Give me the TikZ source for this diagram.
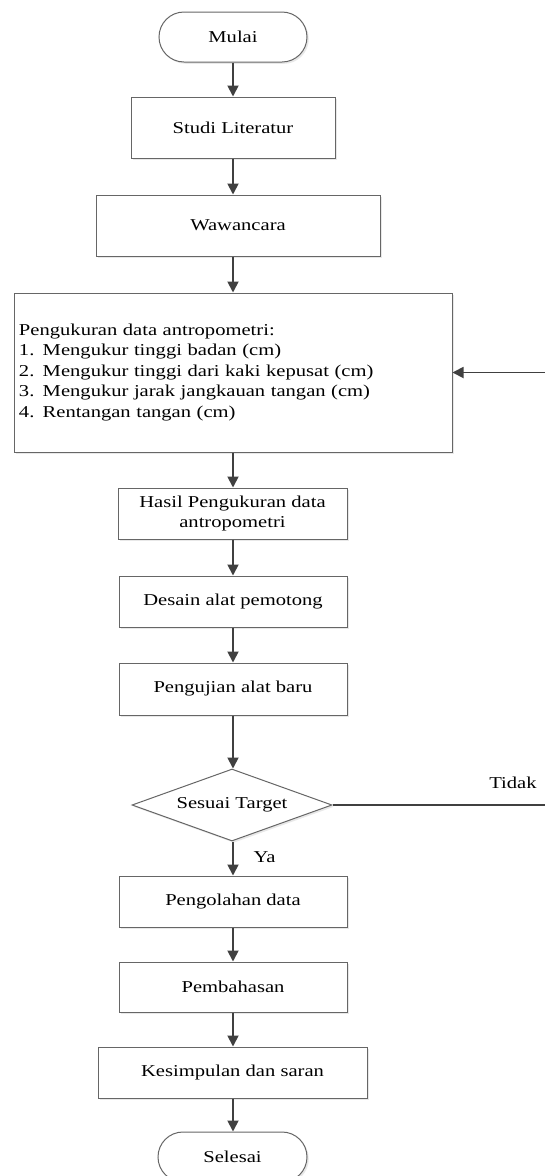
\documentclass[tikz,border=0pt]{standalone}
\usepackage{fontspec}
\setmainfont{Liberation Serif}[FakeStretch=1.24]
\usetikzlibrary{shapes.geometric,arrows.meta,shadows}
\definecolor{bordc}{HTML}{666666}
\definecolor{arrc}{HTML}{404040}
\tikzset{
  base/.style={draw=bordc, line width=1pt, fill=white, inner sep=3pt, align=center,
    font=\fontsize{16.6}{20.5}\selectfont,
    drop shadow={shadow xshift=1.8pt, shadow yshift=-1.8pt, fill=black!9, opacity=1}},
  proc/.style={base, rectangle},
  term/.style={base, rectangle, rounded corners=25pt, minimum width=148pt, minimum height=50pt},
  decide/.style={base, diamond, aspect=2.78, inner sep=0pt, minimum width=200pt, minimum height=72pt},
  arr/.style={draw=arrc, line width=1.8pt, -{Triangle[width=11pt,length=11pt]}},
  plain/.style={draw=arrc, line width=1.3pt},
  lab/.style={font=\fontsize{16.6}{20.5}\selectfont, inner sep=0pt}
}
\begin{document}
\begin{tikzpicture}[x=1pt,y=-1pt]
\clip (0,0) rectangle (545,1176);
\fill[white] (0,0) rectangle (545,1176);
\node[term] (m) at (233,37) {Mulai};
\node[proc, minimum width=204pt, minimum height=61pt] (s) at (233,127.5) {Studi Literatur};
\node[proc, minimum width=284pt, minimum height=61pt] (w) at (238,225.5) {Wawancara};
\node[proc, minimum width=438pt, minimum height=159pt, text width=428pt, align=left] (p) at (233,372.5)
  {Pengukuran data antropometri:\\
   1. Mengukur tinggi badan (cm)\\
   2. Mengukur tinggi dari kaki kepusat (cm)\\
   3. Mengukur jarak jangkauan tangan (cm)\\
   4. Rentangan tangan (cm)};
\node[proc, minimum width=229pt, minimum height=51pt] (h) at (232.5,513.5) {Hasil Pengukuran data\\antropometri};
\node[proc, minimum width=228pt, minimum height=51pt] (de) at (233,601.5) {Desain alat pemotong};
\node[proc, minimum width=228pt, minimum height=52pt] (pu) at (233,689) {Pengujian alat baru};
\node[decide] (d) at (232,805) {Sesuai Target};
\node[proc, minimum width=228pt, minimum height=51pt] (po) at (233,901.5) {Pengolahan data};
\node[proc, minimum width=228pt, minimum height=50pt] (pb) at (233,987) {Pembahasan};
\node[proc, minimum width=269pt, minimum height=51pt] (k) at (232.5,1072.5) {Kesimpulan dan saran};
\node[term, minimum width=149pt] (e) at (232.5,1157) {Selesai};
\coordinate (r1) at (545,805);
\coordinate (r2) at (545,372.5);
\draw[arr] (s.south |- m.south) -- (s.north);
\draw[arr] (s.south) -- (s.south |- w.north);
\draw[arr] (s.south |- w.south) -- (s.south |- p.north);
\draw[arr] (s.south |- p.south) -- (s.south |- h.north);
\draw[arr] (s.south |- h.south) -- (s.south |- de.north);
\draw[arr] (s.south |- de.south) -- (s.south |- pu.north);
\draw[arr] (s.south |- pu.south) -- (s.south |- d.north);
\draw[arr] (s.south |- d.south) -- (s.south |- po.north);
\draw[arr] (s.south |- po.south) -- (s.south |- pb.north);
\draw[arr] (s.south |- pb.south) -- (s.south |- k.north);
\draw[arr] (s.south |- k.south) -- (s.south |- e.north);
\draw[plain] (d.east) -- (r1);
\draw[arr] (r2) -- (p.east);
\node[lab] (tidak) at (513,783) {Tidak};
\node[lab] (ya) at (264.5,857) {Ya};
\end{tikzpicture}
\end{document}
